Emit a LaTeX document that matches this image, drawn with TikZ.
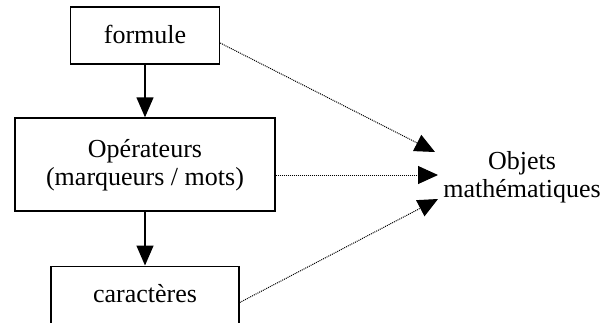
\documentclass[tikz,border=0pt]{standalone}
\usepackage{fontspec}
\setmainfont{Liberation Serif}
\usetikzlibrary{arrows.meta}
\begin{document}
\begin{tikzpicture}[x=1pt,y=-1pt,
  box/.style={draw, line width=1.4pt, inner sep=0pt},
  txt/.style={font=\fontsize{26}{28}\selectfont, align=center, inner sep=0pt},
  solidarrow/.style={line width=1.4pt, -{Triangle[length=20pt,width=17pt]}},
  dotarrow/.style={line width=1pt, dash pattern=on 1pt off 1pt, -{Triangle[length=20pt,width=18pt]}}]
\useasboundingbox (0,0) rectangle (610,322);
\node[box, minimum width=149pt, minimum height=57pt] (form) at (145,35.5) {};
\node[txt, anchor=base] (formtxt) at (145,43) {formule};
\node[box, minimum width=260pt, minimum height=93pt] (oper) at (145,164.5) {};
\node[txt, anchor=base] (opertxt) at (145,185) {Opérateurs\\(marqueurs / mots)};
\node[box, minimum width=188pt, minimum height=80pt, anchor=north] (car) at (145,265.5) {};
\node[txt, anchor=base] (cartxt) at (145,302) {caractères};
\node[txt, anchor=base] (obj) at (522,197) {Objets\\mathématiques};
\coordinate (t1) at (435,152);
\coordinate (t2) at (438,175);
\coordinate (t3) at (438,199);
\draw[solidarrow] (form.south) -- (oper.north);
\draw[solidarrow] (oper.south) -- (car.north);
\draw[dotarrow] ([yshift=-7.5pt]form.east) -- (t1);
\draw[dotarrow] ([yshift=-10.5pt]oper.east) -- (t2);
\draw[dotarrow] ([yshift=-37pt]car.north east) -- (t3);
\end{tikzpicture}
\end{document}
